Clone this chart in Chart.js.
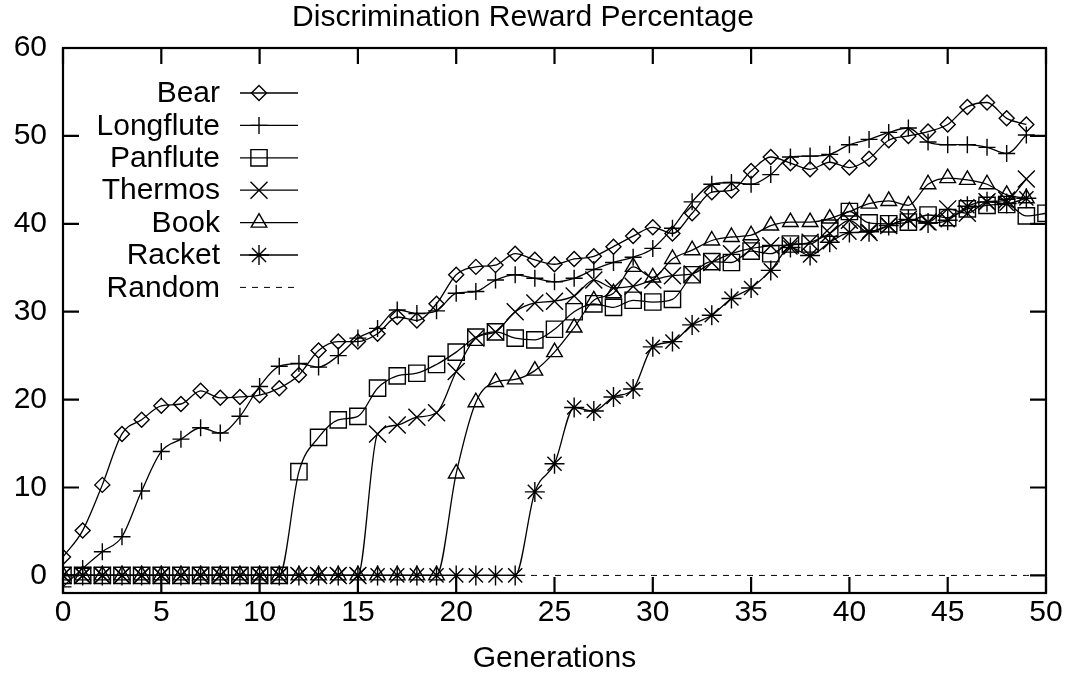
<!DOCTYPE html>
<html>
<head>
<meta charset="utf-8">
<script src="https://cdn.jsdelivr.net/npm/chart.js@4/dist/chart.umd.min.js"></script>
<style>
  html, body { margin: 0; padding: 0; background: #fff; }
  #wrap { width: 1068px; height: 677px; }
</style>
</head>
<body>
<div id="wrap"><canvas id="rewardChart" width="1068" height="677"></canvas></div>
<script>
// Data (generation -> reward %)
const generations = [0,1,2,3,4,5,6,7,8,9,10,11,12,13,14,15,16,17,18,19,20,21,22,23,24,25,26,27,28,29,30,31,32,33,34,35,36,37,38,39,40,41,42,43,44,45,46,47,48,49,50];
const bear = [2.1,5.1,10.3,16.1,17.7,19.3,19.5,21.0,20.2,20.3,20.5,21.3,22.8,25.6,26.6,26.6,27.5,29.4,29.0,30.9,34.2,35.1,35.3,36.6,35.9,35.4,36.0,36.3,37.4,38.6,39.6,38.9,41.2,43.6,43.8,46.0,47.6,46.9,46.2,47.0,46.4,47.4,49.5,50.0,50.5,51.3,53.3,53.8,52.0,51.3];
const longflute = [-1.3,0.8,2.7,4.4,9.6,14.1,15.5,16.8,16.2,18.1,21.5,23.8,24.1,23.7,25.0,27.0,28.1,30.2,29.8,30.1,32.1,32.3,33.6,34.2,33.8,33.4,33.8,34.8,35.6,36.2,37.2,39.5,42.5,44.5,44.7,44.5,45.6,47.6,47.7,47.9,49.0,49.6,50.4,50.9,49.3,49.0,49.0,48.7,48.0,50.1];
const panflute = [0,0,0,0,0,0,0,0,0,0,0,0,11.8,15.7,17.7,18.1,21.3,22.7,23.0,24.0,25.4,27.1,27.7,27.0,26.8,28.0,30.0,30.9,30.5,31.3,31.1,31.4,34.2,35.7,35.6,36.9,36.6,37.7,37.7,39.5,41.4,40.1,40.0,40.2,41.0,40.7,41.7,42.1,42.2,40.9,41.2];
const thermos = [0,0,0,0,0,0,0,0,0,0,0,0,0,0,0,0,16.1,17.1,18.0,18.5,23.2,27.0,27.7,30.0,31.0,31.2,31.8,33.6,32.7,32.9,33.6,34.1,34.3,35.6,36.6,37.2,37.5,37.6,37.9,38.9,40.4,39.0,39.8,40.5,40.2,41.7,41.2,42.5,42.7,45.1];
const book = [0,0,0,0,0,0,0,0,0,0,0,0,0,0,0,0,0,0,0,0,11.6,19.7,22.0,22.3,23.3,25.4,28.2,31.3,32.1,35.1,33.9,36.0,37.0,38.1,38.5,38.7,39.8,40.2,40.2,40.6,41.4,42.3,42.6,42.1,44.5,45.2,45.0,44.5,43.3,42.9];
const racket = [0,0,0,0,0,0,0,0,0,0,0,0,0,0,0,0,0,0,0,0,0,0,0,0,9.5,12.7,19.1,18.7,20.3,21.2,26.0,26.6,28.5,29.6,31.5,32.7,34.7,37.3,36.4,37.9,39.0,39.1,39.8,40.5,40.1,40.4,42.0,42.5,42.3,42.9];
const random = [0,0,0,0,0,0,0,0,0,0,0,0,0,0,0,0,0,0,0,0,0,0,0,0,0,0,0,0,0,0,0,0,0,0,0,0,0,0,0,0,0,0,0,0,0,0,0,0,0,0,0];
const xTicks = [0,5,10,15,20,25,30,35,40,45,50];
const yTicks = [0,10,20,30,40,50,60];

const FONT = '"Liberation Sans", Arial, Helvetica, sans-serif';
const FSIZE = 30;

const toPoints = vals => vals.map((v, i) => ({ x: generations[i], y: v }));

const series = [
  { label: 'Bear',      data: bear,      style: 'rectRot',  radius: 7.5 },
  { label: 'Longflute', data: longflute, style: 'cross',    radius: 8.5 },
  { label: 'Panflute',  data: panflute,  style: 'rect',     radius: 11.5 },
  { label: 'Thermos',   data: thermos,   style: 'crossRot', radius: 12 },
  { label: 'Book',      data: book,      style: 'triangle', radius: 9 },
  { label: 'Racket',    data: racket,    style: 'star',     radius: 10 }
];

const datasets = series.map(s => ({
  label: s.label,
  data: toPoints(s.data),
  borderColor: '#000',
  backgroundColor: 'rgba(0,0,0,0)',
  borderWidth: 1.3,
  pointStyle: s.style,
  pointRadius: s.radius,
  pointBorderWidth: 1.4,
  pointBorderColor: '#000',
  pointBackgroundColor: 'rgba(0,0,0,0)',
  cubicInterpolationMode: 'monotone'
}));
datasets.push({
  label: 'Random',
  data: toPoints(random),
  borderColor: '#000',
  borderWidth: 1,
  borderDash: [6, 6],
  pointRadius: 0
});

// frame, inward ticks (mirrored) and the key, gnuplot style
const framePlugin = {
  id: 'frame',
  afterDraw(chart) {
    const { ctx, chartArea: a, scales } = chart;
    ctx.save();
    ctx.strokeStyle = '#000';
    ctx.lineWidth = 2.2;
    ctx.strokeRect(a.left, a.top, a.right - a.left, a.bottom - a.top);
    const tl = 16;
    ctx.beginPath();
    xTicks.forEach(v => {
      const px = scales.x.getPixelForValue(v);
      ctx.moveTo(px, a.bottom); ctx.lineTo(px, a.bottom - tl);
      ctx.moveTo(px, a.top); ctx.lineTo(px, a.top + tl);
    });
    yTicks.forEach(v => {
      const py = scales.y.getPixelForValue(v);
      ctx.moveTo(a.left, py); ctx.lineTo(a.left + tl, py);
      ctx.moveTo(a.right, py); ctx.lineTo(a.right - tl, py);
    });
    ctx.stroke();

    // key
    ctx.font = FSIZE + 'px ' + FONT;
    ctx.textAlign = 'right';
    ctx.textBaseline = 'middle';
    const textRight = 220, lineL = 240, lineR = 298, markX = 259;
    chart.data.datasets.forEach((ds, i) => {
      const y = 93 + i * 32.4;
      ctx.fillStyle = '#000';
      ctx.fillText(ds.label, textRight, y + 1);
      ctx.lineWidth = ds.borderWidth;
      ctx.setLineDash(ds.borderDash || []);
      ctx.beginPath();
      ctx.moveTo(lineL, y); ctx.lineTo(lineR, y);
      ctx.stroke();
      ctx.setLineDash([]);
      if (ds.pointRadius) {
        ctx.lineWidth = ds.pointBorderWidth;
        ctx.fillStyle = 'rgba(0,0,0,0)';
        Chart.helpers.drawPoint(ctx, { pointStyle: ds.pointStyle, radius: ds.pointRadius, borderWidth: ds.pointBorderWidth, rotation: 0 }, markX, y);
      }
    });
    ctx.restore();
  }
};

new Chart(document.getElementById('rewardChart'), {
  type: 'line',
  data: { datasets: datasets },
  options: {
    responsive: false,
    devicePixelRatio: 1,
    animation: false,
    layout: { padding: { left: 0, right: 22, top: 0, bottom: 0 } },
    plugins: {
      legend: { display: false },
      tooltip: { enabled: false },
      title: {
        display: true,
        text: 'Discrimination Reward Percentage',
        color: '#000',
        font: { family: FONT, size: FSIZE, weight: 'normal' },
        padding: { top: 0, bottom: 12 }
      }
    },
    scales: {
      x: {
        type: 'linear',
        min: 0,
        max: 50,
        afterBuildTicks: s => { s.ticks = xTicks.map(v => ({ value: v })); },
        afterFit: s => { s.height = 84; },
        grid: { display: false, drawTicks: false },
        border: { display: false },
        ticks: { color: '#000', padding: 2, font: { family: FONT, size: FSIZE }, maxRotation: 0 },
        title: { display: true, text: 'Generations', color: '#000', font: { family: FONT, size: FSIZE }, padding: { top: 0, bottom: 0 } }
      },
      y: {
        type: 'linear',
        min: -2,
        max: 60,
        afterBuildTicks: s => { s.ticks = yTicks.map(v => ({ value: v })); },
        afterFit: s => { s.width = 63; },
        grid: { display: false, drawTicks: false },
        border: { display: false },
        ticks: { color: '#000', padding: 16, font: { family: FONT, size: FSIZE } }
      }
    }
  },
  plugins: [framePlugin]
});
</script>
</body>
</html>
